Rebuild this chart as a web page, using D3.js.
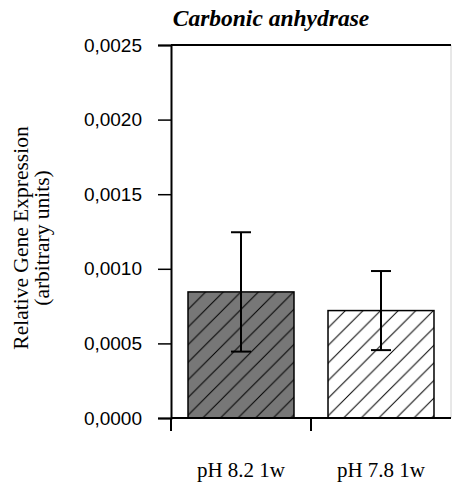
<!DOCTYPE html>
<html>
<head>
<meta charset="utf-8">
<script src="https://cdn.jsdelivr.net/npm/d3@7"></script>
<style>
  body { margin: 0; background: #fff; }
  svg { display: block; }
</style>
</head>
<body>
<div id="chart"></div>
<script>
// values
var categories = ["pH 8.2 1w", "pH 7.8 1w"]
var means = [0.000845, 0.000720]
var errors = [0.000400, 0.000265]
var yTicks = [0, 0.0005, 0.0010, 0.0015, 0.0020, 0.0025]

var width = 454, height = 488
var margin = {top: 45, right: 3, bottom: 70, left: 171}
var plotW = width - margin.left - margin.right
var plotH = height - margin.top - margin.bottom

var svg = d3.select("#chart").append("svg")
    .attr("width", width)
    .attr("height", height)

var defs = svg.append("defs")
var hatch = [["hatchDark", "#777777"], ["hatchLight", "#ffffff"]]
hatch.forEach(function(h){
    var p = defs.append("pattern")
        .attr("id", h[0])
        .attr("patternUnits", "userSpaceOnUse")
        .attr("width", 17.6).attr("height", 17.6)
    p.append("rect").attr("width", 17.6).attr("height", 17.6).attr("fill", h[1])
    // "/" diagonals, with corner pieces so the lines join across tiles
    p.append("path")
        .attr("d", "M0,17.6 L17.6,0 M-4,4 L4,-4 M13.6,21.6 L21.6,13.6")
        .attr("stroke", "#000").attr("stroke-width", 1)
})

var plot = svg.append("g")
    .attr("transform", `translate(${margin.left},${margin.top})`)

var x = d3.scaleBand().domain(categories).range([0, plotW])
    .paddingInner(0.243).paddingOuter(0.1215)
var y = d3.scaleLinear().domain([0, 0.0025]).range([plotH, 0])

// frame: faint right edge, top line
plot.append("line")
    .attr("x1", plotW).attr("x2", plotW).attr("y1", 0).attr("y2", plotH)
    .attr("stroke", "#d0d0d0").attr("stroke-width", 1)
plot.append("line")
    .attr("x1", 0).attr("x2", plotW).attr("y1", 0).attr("y2", 0)
    .attr("stroke", "#000").attr("stroke-width", 2)

// bars
plot.selectAll("rect.bar")
    .data(categories)
    .enter().append("rect")
    .attr("class", "bar")
    .attr("x", d => x(d))
    .attr("width", x.bandwidth())
    .attr("y", (d, i) => y(means[i]))
    .attr("height", (d, i) => y(0) - y(means[i]))
    .attr("fill", (d, i) => i == 0 ? "url(#hatchDark)" : "url(#hatchLight)")
    .attr("stroke", "#000")
    .attr("stroke-width", 1.5)

// error bars
var err = plot.selectAll("g.err")
    .data(categories)
    .enter().append("g")
    .attr("class", "err")
    .attr("transform", d => `translate(${x(d) + x.bandwidth() / 2},0)`)
err.append("line")
    .attr("y1", (d, i) => y(means[i] + errors[i]))
    .attr("y2", (d, i) => y(means[i] - errors[i]))
    .attr("stroke", "#000").attr("stroke-width", 2)
err.append("line")
    .attr("x1", -10).attr("x2", 10)
    .attr("y1", (d, i) => y(means[i] + errors[i]))
    .attr("y2", (d, i) => y(means[i] + errors[i]))
    .attr("stroke", "#000").attr("stroke-width", 2)
err.append("line")
    .attr("x1", -10).attr("x2", 10)
    .attr("y1", (d, i) => y(means[i] - errors[i]))
    .attr("y2", (d, i) => y(means[i] - errors[i]))
    .attr("stroke", "#000").attr("stroke-width", 2)

// y axis
var yAxis = d3.axisLeft(y)
    .tickValues(yTicks)
    .tickFormat(d => d.toFixed(4).replace(".", ","))
    .tickSize(13)
    .tickPadding(16)
var gy = plot.append("g").attr("class", "y axis").call(yAxis)
gy.select(".domain").attr("stroke-width", 2)
gy.selectAll(".tick line").attr("stroke-width", 1.5)
gy.selectAll(".tick text")
    .style("font-family", "'Liberation Sans', Arial, sans-serif")
    .style("font-size", "19px")
    .attr("fill", "#000")

// x axis: baseline, ticks at category boundaries, labels under bars
plot.append("line")
    .attr("x1", 0).attr("x2", plotW).attr("y1", plotH).attr("y2", plotH)
    .attr("stroke", "#000").attr("stroke-width", 2)
var gap = (x.step() - x.bandwidth()) / 2
var bounds = categories.map(d => x(d) - gap)
plot.selectAll("line.xtick")
    .data(bounds)
    .enter().append("line")
    .attr("class", "xtick")
    .attr("x1", d => d).attr("x2", d => d)
    .attr("y1", plotH).attr("y2", plotH + 13)
    .attr("stroke", "#000").attr("stroke-width", 2)
plot.selectAll("text.xlab")
    .data(categories)
    .enter().append("text")
    .attr("class", "xlab")
    .attr("x", d => x(d) + x.bandwidth() / 2)
    .attr("y", plotH + 59)
    .attr("text-anchor", "middle")
    .style("font-family", "'Liberation Serif', 'Times New Roman', serif")
    .style("font-size", "21px")
    .text(d => d)

// title
svg.append("text")
    .attr("x", 271)
    .attr("y", 26)
    .attr("text-anchor", "middle")
    .style("font-family", "'Liberation Serif', 'Times New Roman', serif")
    .style("font-size", "23.5px")
    .style("font-weight", "bold")
    .style("font-style", "italic")
    .text("Carbonic anhydrase")

// y label, two lines
var ylab = svg.append("text")
    .attr("transform", "translate(0,238) rotate(-90)")
    .attr("text-anchor", "middle")
    .style("font-family", "'Liberation Serif', 'Times New Roman', serif")
    .style("font-size", "21.5px")
ylab.append("tspan").attr("x", 0).attr("y", 28).text("Relative Gene Expression")
ylab.append("tspan").attr("x", 0).attr("y", 49).text("(arbitrary units)")
</script>
</body>
</html>
